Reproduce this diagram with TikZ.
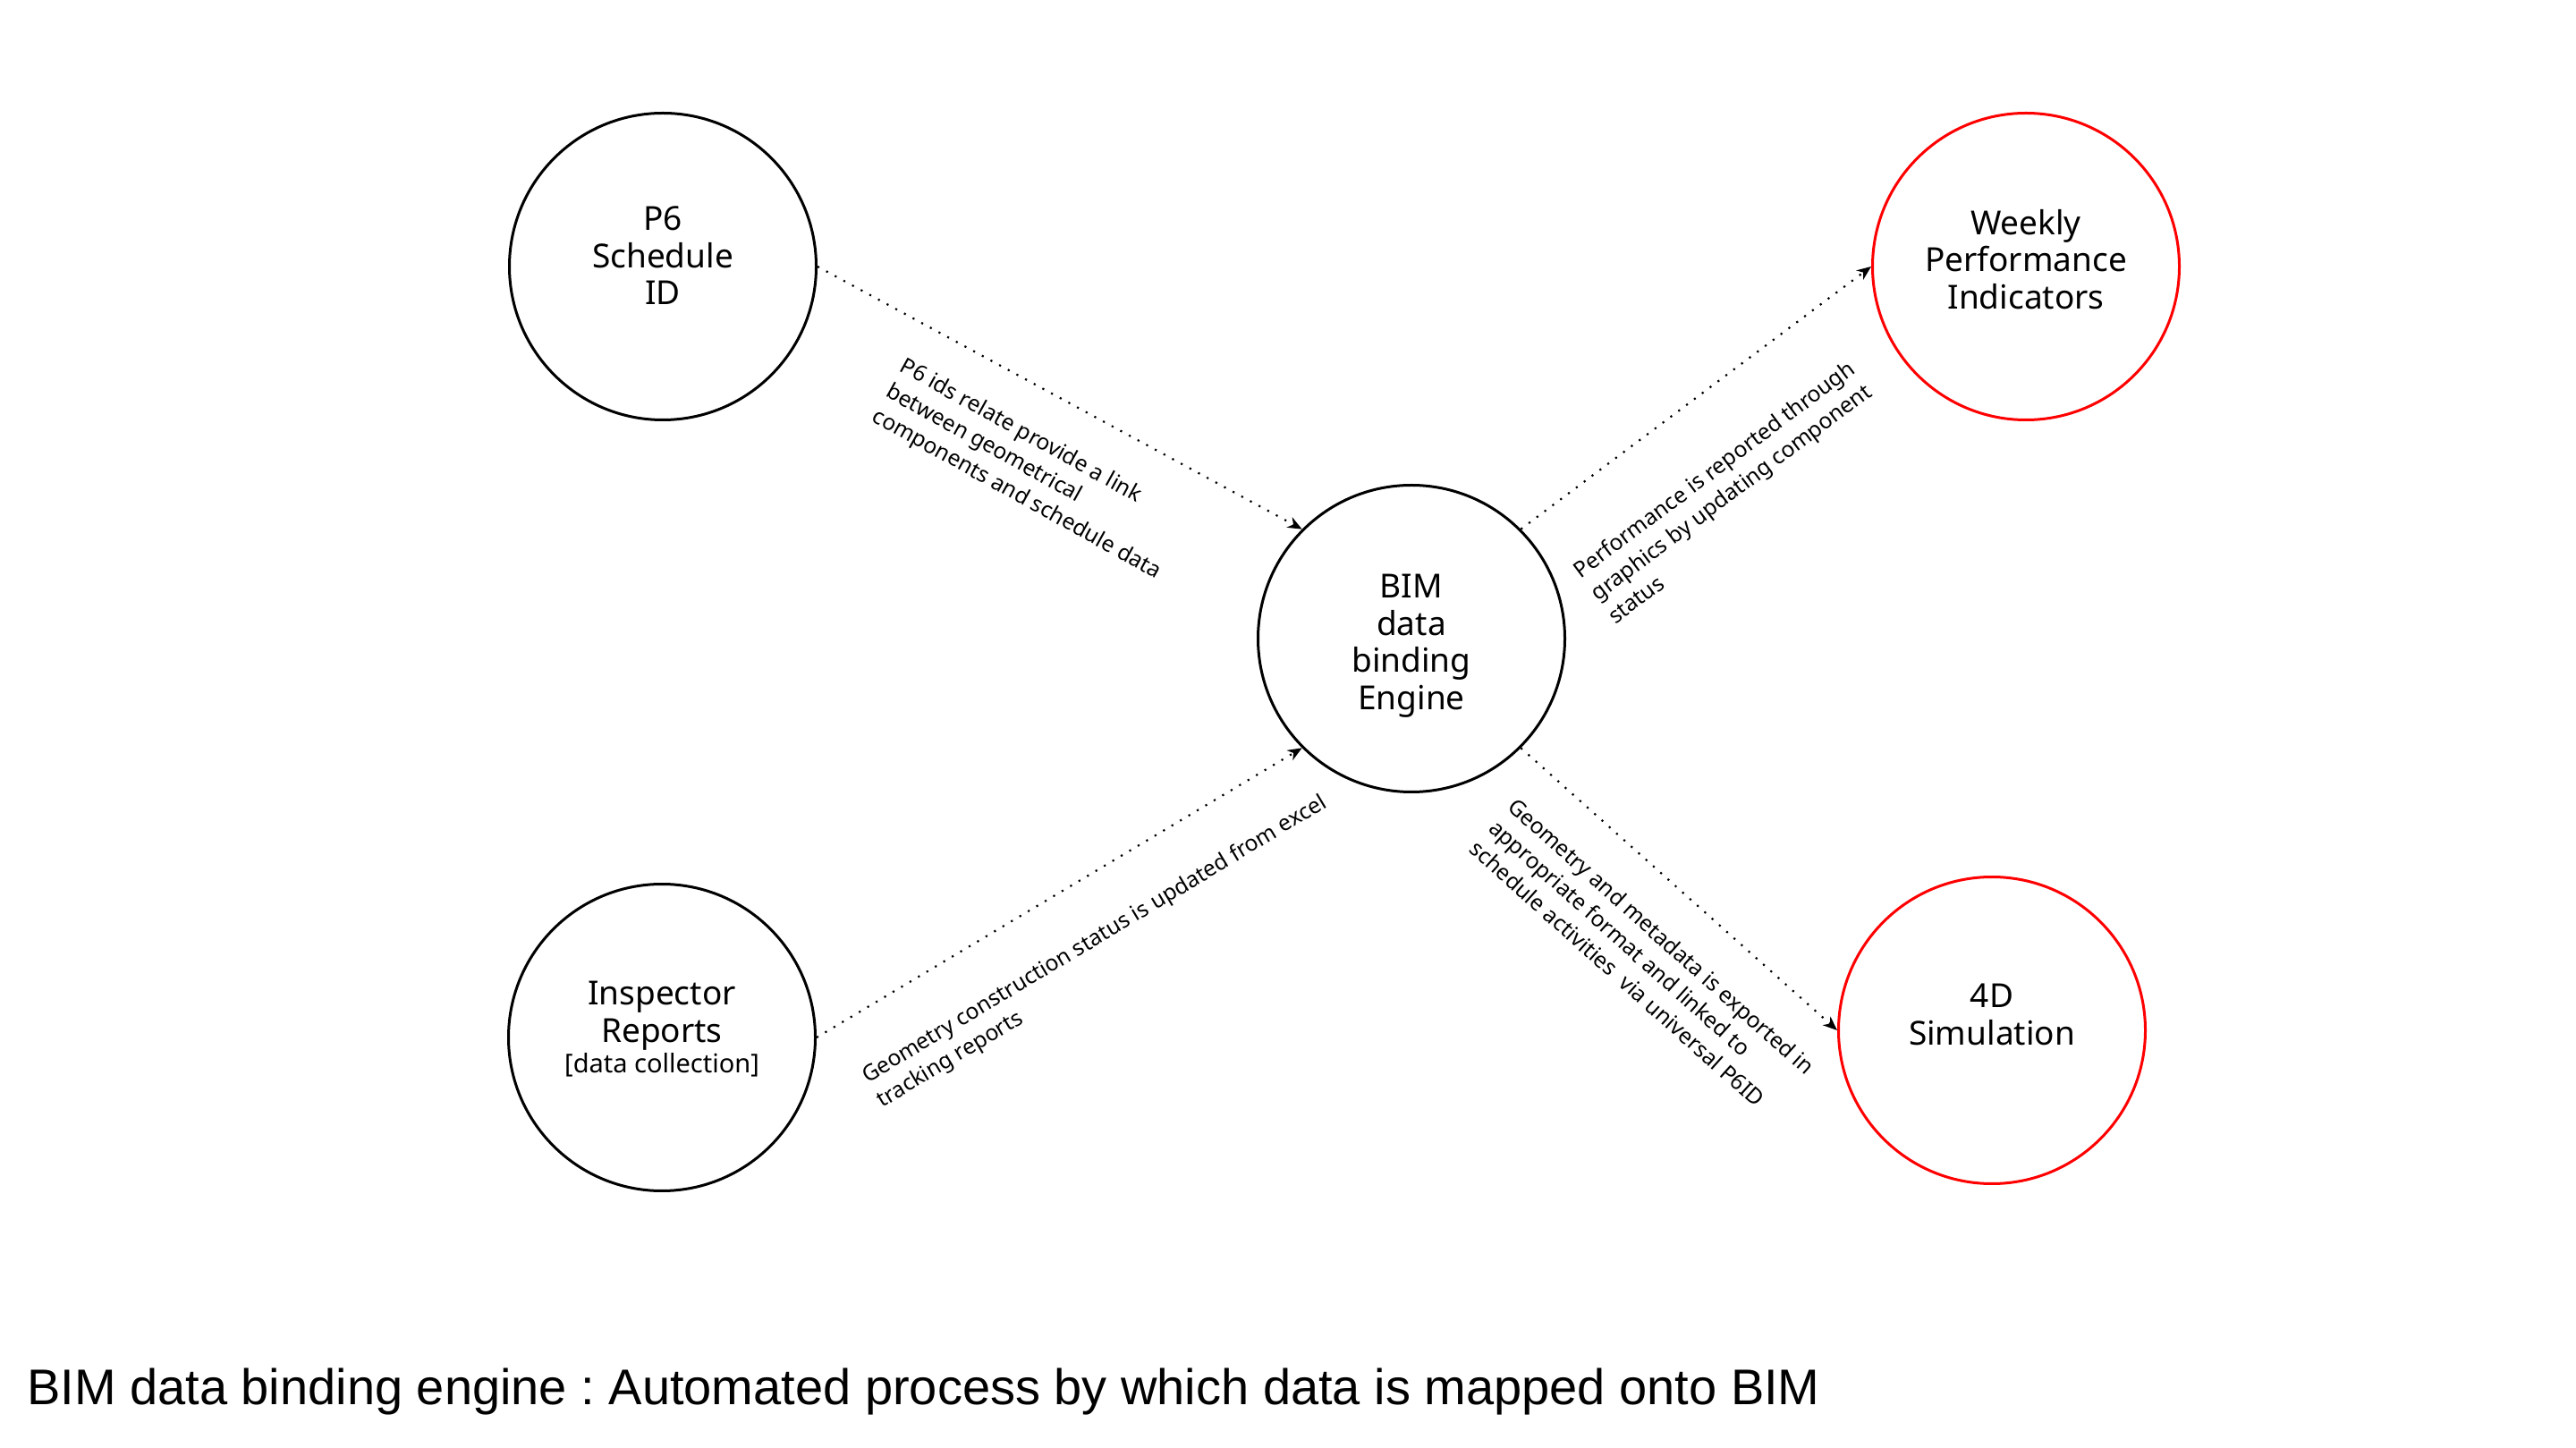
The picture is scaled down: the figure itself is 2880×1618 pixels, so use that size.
\documentclass[tikz,border=0pt]{standalone}
\usepackage{fontspec}
\setmainfont{Noto Sans}
\newfontfamily\capfont{Liberation Sans}
\usetikzlibrary{arrows.meta}
\frenchspacing
\tikzset{
  circ/.style={circle, draw=black, line width=3pt, minimum size=343pt, inner sep=0pt},
  redcirc/.style={circ, draw=red},
  ntext/.style={anchor=north, align=center, inner sep=0pt, font=\fontsize{37}{41.5}\selectfont},
  elabel/.style={anchor=north west, align=left, inner sep=0pt, font=\fontsize{24.7}{32}\selectfont},
  conn/.style={line width=2.2pt, dash pattern=on 2.2pt off 8.8pt, -{Stealth[length=16pt,width=13pt,inset=5pt]}},
}
\begin{document}
\begin{tikzpicture}[x=1pt,y=1pt]
\useasboundingbox (0,0) rectangle (2880,1618);
\fill[white] (0,0) rectangle (2880,1618);

% circles
\node[circ] (p6) at (741,1320) {};
\node[circ] (bim) at (1578,904) {};
\node[circ] (ins) at (740,458) {};
\node[redcirc] (wpi) at (2265,1320) {};
\node[redcirc] (sim) at (2227,466) {};

% circle texts
\node[ntext] (p6t) at ([yshift=67pt]p6.center) {P6\\Schedule\\ID};
\node[ntext] (bimt) at ([yshift=72pt]bim.center) {BIM\\data\\binding\\Engine};
\node[ntext] (inst) at ([yshift=63pt]ins.center) {Inspector\\Reports\\[-7.5pt]{\fontsize{29}{34}\selectfont [data collection]}};
\node[ntext] (wpit) at ([yshift=64pt]wpi.center) {Weekly\\Performance\\Indicators};
\node[ntext] (simt) at ([yshift=52pt]sim.center) {4D\\Simulation};

% connectors
\draw[conn] (p6.east) -- (bim.north west);
\draw[conn] (ins.east) -- (bim.south west);
\draw[conn] (bim.north east) -- (wpi.west);
\draw[conn] (bim.south east) -- (sim.west);

% connector labels
\node[elabel, rotate=-29] (l1) at (1014,1220) {P6 ids relate provide a link\\between geometrical\\components and schedule data};
\node[elabel, rotate=36.9] (l2) at (1756,986) {Performance is reported through\\graphics by updating component\\status};
\node[elabel, rotate=31] (l3) at (960,423) {Geometry construction status is updated from excel\\tracking reports};
\node[elabel, rotate=-41.8] (l4) at (1697,728) {Geometry and metadata is exported in\\appropriate format and linked to\\schedule activities\ \ via universal P6ID};

% caption
\node[anchor=base west, inner sep=0pt, font=\capfont\fontsize{56}{68}\selectfont] (cap) at (30,48) {BIM data binding engine : Automated process by which data is mapped onto BIM};
\end{tikzpicture}
\end{document}
